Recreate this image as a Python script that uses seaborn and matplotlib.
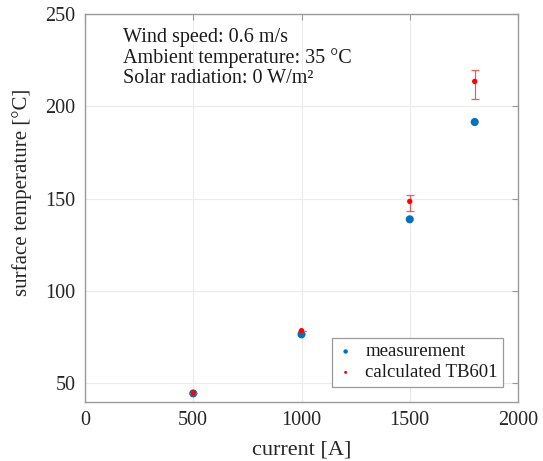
import matplotlib
matplotlib.use("Agg")
import matplotlib.pyplot as plt
import seaborn as sns
import pandas as pd
import numpy as np

# Data
current = [500, 1000, 1500, 1800]
measured = [44.5, 76.5, 138.8, 191.5]
calculated = [44.8, 78.5, 148.5, 213.5]
calc_err_low = [0.0, 0.0, 5.3, 9.6]
calc_err_high = [0.0, 0.0, 3.3, 6.4]
x_ticks = [0, 500, 1000, 1500, 2000]
y_ticks = [50, 100, 150, 200, 250]
info_lines = ["Wind speed: 0.6 m/s", "Ambient temperature: 35 °C", "Solar radiation: 0 W/m²"]

sns.set_theme(style="whitegrid")
plt.rcParams['font.family'] = ['Liberation Serif', 'DejaVu Serif']

fig = plt.figure(figsize=(5.43, 4.61), dpi=100)
ax = fig.add_axes([0.1565, 0.1286, 0.7975, 0.841])

df_m = pd.DataFrame({"current": current, "temp": measured})
df_c = pd.DataFrame({"current": current, "temp": calculated})

sns.scatterplot(data=df_m, x="current", y="temp", ax=ax, color="#0072BD", s=34,
                edgecolor="none", label="measurement", zorder=3)
ax.errorbar(current, calculated, yerr=[calc_err_low, calc_err_high], fmt="none",
            ecolor="#f25a5a", elinewidth=0.9, capsize=3, capthick=0.9, zorder=4)
sns.scatterplot(data=df_c, x="current", y="temp", ax=ax, color="#FF0000", s=15,
                edgecolor="none", label="calculated TB601", zorder=5)

ax.set_xlim(0, 2000)
ax.set_ylim(40, 250)
ax.set_xticks(x_ticks)
ax.set_yticks(y_ticks)
ax.set_xlabel("current [A]", fontsize=16, color="#262626", labelpad=7)
ax.set_ylabel("surface temperature [°C]", fontsize=15, color="#262626")
ax.yaxis.set_label_coords(-0.122, 0.54)
ax.tick_params(axis="both", labelsize=14.5, labelcolor="#262626", direction="in",
               length=4, width=0.8, top=True, right=True, pad=7, color="#999999")

ax.grid(True, color="#ebebeb", linewidth=0.8)
ax.set_facecolor("white")
for sp in ax.spines.values():
    sp.set_visible(True)
    sp.set_color("#9a9a9a")
    sp.set_linewidth(1.0)

ax.text(0.088, 0.964, "\n".join(info_lines), transform=ax.transAxes, va="top", ha="left",
        fontsize=14.5, color="#1a1a1a", linespacing=1.08)

leg = ax.legend(loc="lower right", fontsize=13.5, frameon=True, fancybox=False,
                edgecolor="#9a9a9a", framealpha=1, borderpad=0.3, handlelength=0.9,
                handletextpad=0.6, labelspacing=0.2, markerscale=0.55,
                bbox_to_anchor=(0.988, 0.014))
leg.get_frame().set_linewidth(0.9)
for txt in leg.get_texts():
    txt.set_color("#1a1a1a")

fig.savefig("out.png", dpi=100, facecolor="white")
